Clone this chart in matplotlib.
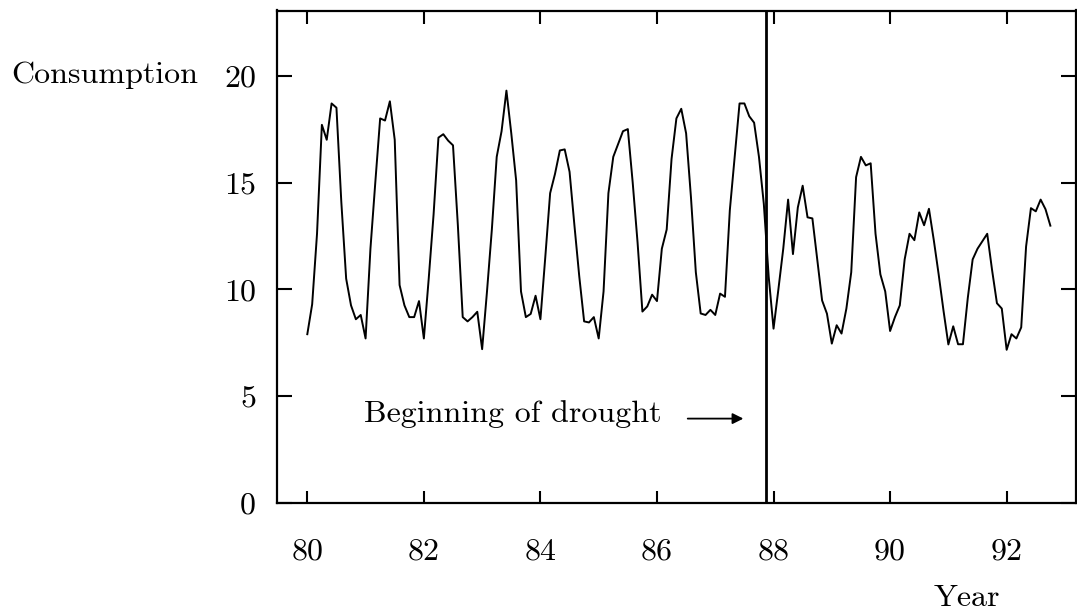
import numpy as np
import matplotlib
matplotlib.use("Agg")
import matplotlib.pyplot as plt

# monthly consumption, Jan 1980 - Oct 1992
consumption = [
    7.9, 9.3, 12.6, 17.7, 17.0, 18.7, 18.5, 14.1, 10.5, 9.25, 8.6, 8.8,      # 80
    7.7, 11.9, 15.0, 18.0, 17.9, 18.8, 17.0, 10.2, 9.25, 8.7, 8.7, 9.45,     # 81
    7.7, 10.5, 13.5, 17.1, 17.26, 16.96, 16.74, 13.0, 8.7, 8.5, 8.7, 8.95,   # 82
    7.2, 9.9, 12.8, 16.2, 17.4, 19.3, 17.3, 15.1, 9.9, 8.7, 8.85, 9.7,       # 83
    8.6, 11.5, 14.5, 15.4, 16.5, 16.55, 15.5, 13.0, 10.6, 8.5, 8.45, 8.7,    # 84
    7.7, 9.9, 14.5, 16.2, 16.8, 17.4, 17.5, 15.0, 12.2, 8.96, 9.2, 9.75,     # 85
    9.45, 11.9, 12.8, 16.1, 18.0, 18.45, 17.3, 14.3, 10.8, 8.87, 8.8, 9.04,  # 86
    8.8, 9.8, 9.65, 13.7, 16.2, 18.7, 18.7, 18.1, 17.8, 16.2, 14.0, 10.6,    # 87
    8.16, 10.0, 11.9, 14.2, 11.65, 13.83, 14.85, 13.37, 13.32, 11.42, 9.48, 8.86,  # 88
    7.46, 8.32, 7.93, 9.1, 10.8, 15.25, 16.2, 15.8, 15.9, 12.6, 10.7, 9.9,   # 89
    8.05, 8.7, 9.25, 11.4, 12.6, 12.3, 13.6, 13.0, 13.77, 12.3, 10.7, 9.0,   # 90
    7.42, 8.27, 7.43, 7.43, 9.6, 11.4, 11.9, 12.25, 12.6, 10.9, 9.35, 9.1,   # 91
    7.17, 7.9, 7.7, 8.22, 12.0, 13.8, 13.65, 14.2, 13.75, 12.98,             # 92
]
start_year = 80
drought_start = 87.87

x_ticks = [80, 82, 84, 86, 88, 90, 92]
y_ticks = [0, 5, 10, 15, 20]

years = start_year + np.arange(len(consumption)) / 12

plt.rcParams["font.family"] = "cmr10"
plt.rcParams["axes.formatter.use_mathtext"] = True

fig = plt.figure(figsize=(10.77, 6.13), dpi=100)
ax = fig.add_axes([277 / 1077, 1 - 503 / 613, 799 / 1077, 492.5 / 613])

ax.plot(years, consumption, color="black", lw=1.4)
ax.axvline(drought_start, color="black", lw=2.0)

ax.set_xlim(79.48, 93.19)
ax.set_ylim(0, 23.05)
ax.set_xticks(x_ticks)
ax.set_yticks(y_ticks)
ax.set_xticklabels([str(t) for t in x_ticks])
ax.set_yticklabels([str(t) for t in y_ticks])

ax.tick_params(axis="both", direction="in", labelsize=23, width=1.5,
               top=True, right=True)
ax.tick_params(axis="y", length=11, pad=15)
ax.tick_params(axis="x", length=9, pad=25)
for s in ax.spines.values():
    s.set_linewidth(1.6)

ax.text(80.98, 4.15, "Beginning of drought", fontsize=23, va="center", ha="left")
ax.annotate("", xy=(87.53, 3.95), xytext=(86.48, 3.95),
            arrowprops=dict(arrowstyle="-|>", lw=1.3, color="black",
                            mutation_scale=16))

fig.text(11 / 1077, 1 - 75 / 613, "Consumption", fontsize=23, va="center", ha="left")
fig.text(967 / 1077, 1 - 598 / 613, "Year", fontsize=23, va="center", ha="center")

fig.savefig("out.png", dpi=100)
